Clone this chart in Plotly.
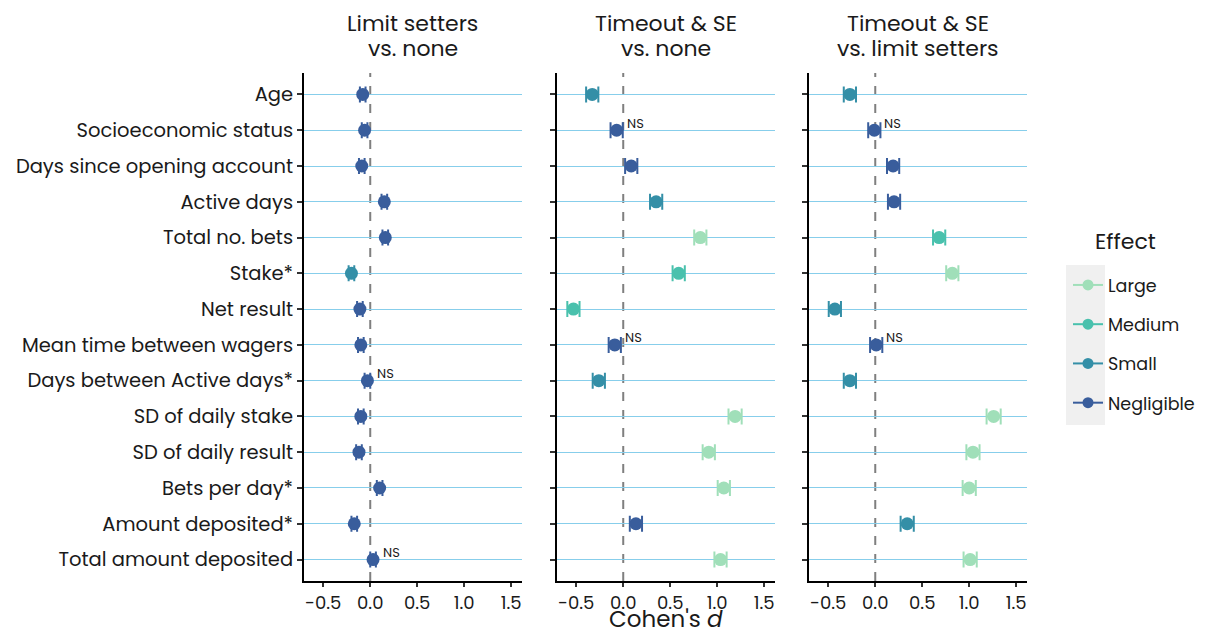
import plotly.graph_objects as go

labels = ["Age", "Socioeconomic status", "Days since opening account", "Active days",
          "Total no. bets", "Stake*", "Net result", "Mean time between wagers",
          "Days between Active days*", "SD of daily stake", "SD of daily result",
          "Bets per day*", "Amount deposited*", "Total amount deposited"]

title_line1 = ["Limit setters", "Timeout & SE", "Timeout & SE"]
title_line2 = ["vs. none", "vs. none", "vs. limit setters"]

# Panel 1: Limit setters vs. none
p1_d = [-0.08, -0.06, -0.09, 0.15, 0.16, -0.20, -0.11, -0.10, -0.03, -0.10, -0.12, 0.10, -0.17, 0.03]
p1_ci = [0.03, 0.03, 0.03, 0.03, 0.03, 0.03, 0.03, 0.03, 0.03, 0.03, 0.03, 0.03, 0.03, 0.03]
p1_eff = ["Negligible", "Negligible", "Negligible", "Negligible", "Negligible", "Small", "Negligible",
          "Negligible", "Negligible", "Negligible", "Negligible", "Negligible", "Negligible", "Negligible"]
p1_ns = [False, False, False, False, False, False, False, False, True, False, False, False, False, True]

# Panel 2: Timeout & SE vs. none
p2_d = [-0.33, -0.07, 0.085, 0.35, 0.82, 0.59, -0.53, -0.09, -0.26, 1.19, 0.91, 1.07, 0.135, 1.035]
p2_ci = [0.065, 0.065, 0.065, 0.065, 0.065, 0.065, 0.065, 0.065, 0.065, 0.07, 0.065, 0.065, 0.065, 0.065]
p2_eff = ["Small", "Negligible", "Negligible", "Small", "Large", "Medium", "Medium", "Negligible",
          "Small", "Large", "Large", "Large", "Negligible", "Large"]
p2_ns = [False, True, False, False, False, False, False, True, False, False, False, False, False, False]

# Panel 3: Timeout & SE vs. limit setters
p3_d = [-0.27, -0.01, 0.19, 0.20, 0.68, 0.82, -0.43, 0.01, -0.27, 1.26, 1.04, 1.00, 0.34, 1.01]
p3_ci = [0.065, 0.065, 0.065, 0.065, 0.065, 0.065, 0.065, 0.065, 0.065, 0.075, 0.07, 0.07, 0.07, 0.07]
p3_eff = ["Small", "Negligible", "Negligible", "Negligible", "Medium", "Large", "Small", "Negligible",
          "Small", "Large", "Large", "Large", "Small", "Large"]
p3_ns = [False, True, False, False, False, False, False, True, False, False, False, False, False, False]

effects = ["Large", "Medium", "Small", "Negligible"]
colors = {"Large": "#a0dfb9", "Medium": "#49c1ad", "Small": "#348fa7", "Negligible": "#395d9c"}

x_ticks = [-0.5, 0.0, 0.5, 1.0, 1.5]
x_ticktext = ["-0.5", "0.0", "0.5", "1.0", "1.5"]

FONT = "Poppins, Open Sans, sans-serif"
TXT = "#1a1a1a"

panels = [(p1_d, p1_ci, p1_eff, p1_ns), (p2_d, p2_ci, p2_eff, p2_ns), (p3_d, p3_ci, p3_eff, p3_ns)]

# the page adds an 8px margin, so figure px = page px - 8
W, H = 1208, 639
ML, MT = 296, 65
PW, PH = 723, 508
MR = W - ML - PW
MB = H - MT - PH


def px(v):
    """figure pixel x -> paper x"""
    return (v - ML) / PW


def py(v):
    """figure pixel y (from top) -> paper y"""
    return (MT + PH - v) / PH


fig = go.Figure()
domains = [[0.0, 0.3015], [0.3499, 0.6515], [0.6985, 1.0]]

for i, (d, ci, eff, ns) in enumerate(panels):
    xa = "x" if i == 0 else f"x{i+1}"
    ya = "y" if i == 0 else f"y{i+1}"
    for e in effects:
        idx = [k for k in range(len(labels)) if eff[k] == e]
        if not idx:
            continue
        fig.add_trace(go.Scatter(
            x=[d[k] for k in idx], y=[labels[k] for k in idx],
            mode="markers", xaxis=xa, yaxis=ya, showlegend=False,
            marker=dict(color=colors[e], size=13),
            error_x=dict(type="data", array=[ci[k] for k in idx], color=colors[e],
                         thickness=2, width=8),
            hoverinfo="x+y",
        ))
    for k in range(len(labels)):
        if ns[k]:
            fig.add_annotation(x=d[k], y=labels[k], xref=xa, yref=ya, text="NS",
                               showarrow=False, xanchor="left", yanchor="middle",
                               xshift=8, yshift=7, font=dict(size=13, color=TXT, family=FONT))
    fig.add_shape(type="line", xref=xa, yref=f"{ya} domain", x0=0, x1=0, y0=0, y1=1,
                  line=dict(color="#7f7f7f", width=2, dash="dash"), layer="below")
    cx = sum(domains[i]) / 2
    fig.add_annotation(x=cx, y=1, xref="paper", yref="paper", text=title_line1[i],
                       showarrow=False, xanchor="center", yanchor="middle", yshift=50,
                       font=dict(size=22, color=TXT, family=FONT))
    fig.add_annotation(x=cx, y=1, xref="paper", yref="paper", text=title_line2[i],
                       showarrow=False, xanchor="center", yanchor="middle", yshift=25,
                       font=dict(size=22, color=TXT, family=FONT))

# legend traces
for j, e in enumerate(effects):
    fig.add_trace(go.Scatter(x=[None], y=[None], mode="lines+markers", name=e,
                             legendgroup=e, marker=dict(color=colors[e], size=11),
                             line=dict(color=colors[e], width=2), xaxis="x", yaxis="y"))

axis_common = dict(range=[-0.705, 1.615], tickvals=x_ticks, ticktext=x_ticktext,
                   showgrid=False, zeroline=False, showline=True, linecolor="black", linewidth=2,
                   ticks="outside", ticklen=4, tickwidth=2, tickcolor="#333333",
                   tickfont=dict(size=18, color=TXT, family=FONT), automargin=False)
yaxis_common = dict(type="category", categoryorder="array", categoryarray=labels,
                    range=[13.6, -0.6], showgrid=True, gridcolor="#87ceeb", gridwidth=1,
                    zeroline=False, showline=True, linecolor="black", linewidth=2,
                    ticks="outside", ticklen=5, tickwidth=2, tickcolor="#333333",
                    tickfont=dict(size=19.5, color=TXT, family=FONT), automargin=False)

layout = dict(
    width=W, height=H,
    margin=dict(l=ML, r=MR, t=MT, b=MB, autoexpand=False),
    plot_bgcolor="white", paper_bgcolor="white",
    font=dict(family=FONT, color=TXT),
    showlegend=True,
    legend=dict(x=px(1060), xanchor="left", y=0.618, yanchor="top",
                font=dict(size=17.5, color=TXT, family=FONT), tracegroupgap=13.5,
                bgcolor="rgba(0,0,0,0)"),
)
for i in range(3):
    xk = "xaxis" if i == 0 else f"xaxis{i+1}"
    yk = "yaxis" if i == 0 else f"yaxis{i+1}"
    layout[xk] = dict(axis_common, domain=domains[i], anchor="y" if i == 0 else f"y{i+1}")
    yd = dict(yaxis_common, domain=[0, 1], anchor="x" if i == 0 else f"x{i+1}")
    if i > 0:
        yd["showticklabels"] = False
    layout[yk] = yd
fig.update_layout(**layout)

fig.add_shape(type="rect", xref="paper", yref="paper",
              x0=px(1058), x1=px(1097), y0=py(417), y1=py(257),
              fillcolor="#f0f0f0", line=dict(width=0), layer="below")

fig.add_annotation(x=px(1117), y=py(234), xref="paper", yref="paper",
                   text="Effect", showarrow=False, xanchor="center", yanchor="middle",
                   font=dict(size=22, color=TXT, family=FONT))

fig.add_annotation(x=sum(domains[1]) / 2, y=0, xref="paper", yref="paper", text="Cohen's <i>d</i>",
                   showarrow=False, xanchor="center", yanchor="middle", yshift=-38,
                   font=dict(size=23, color=TXT, family=FONT))

fig.write_html("out.html")
